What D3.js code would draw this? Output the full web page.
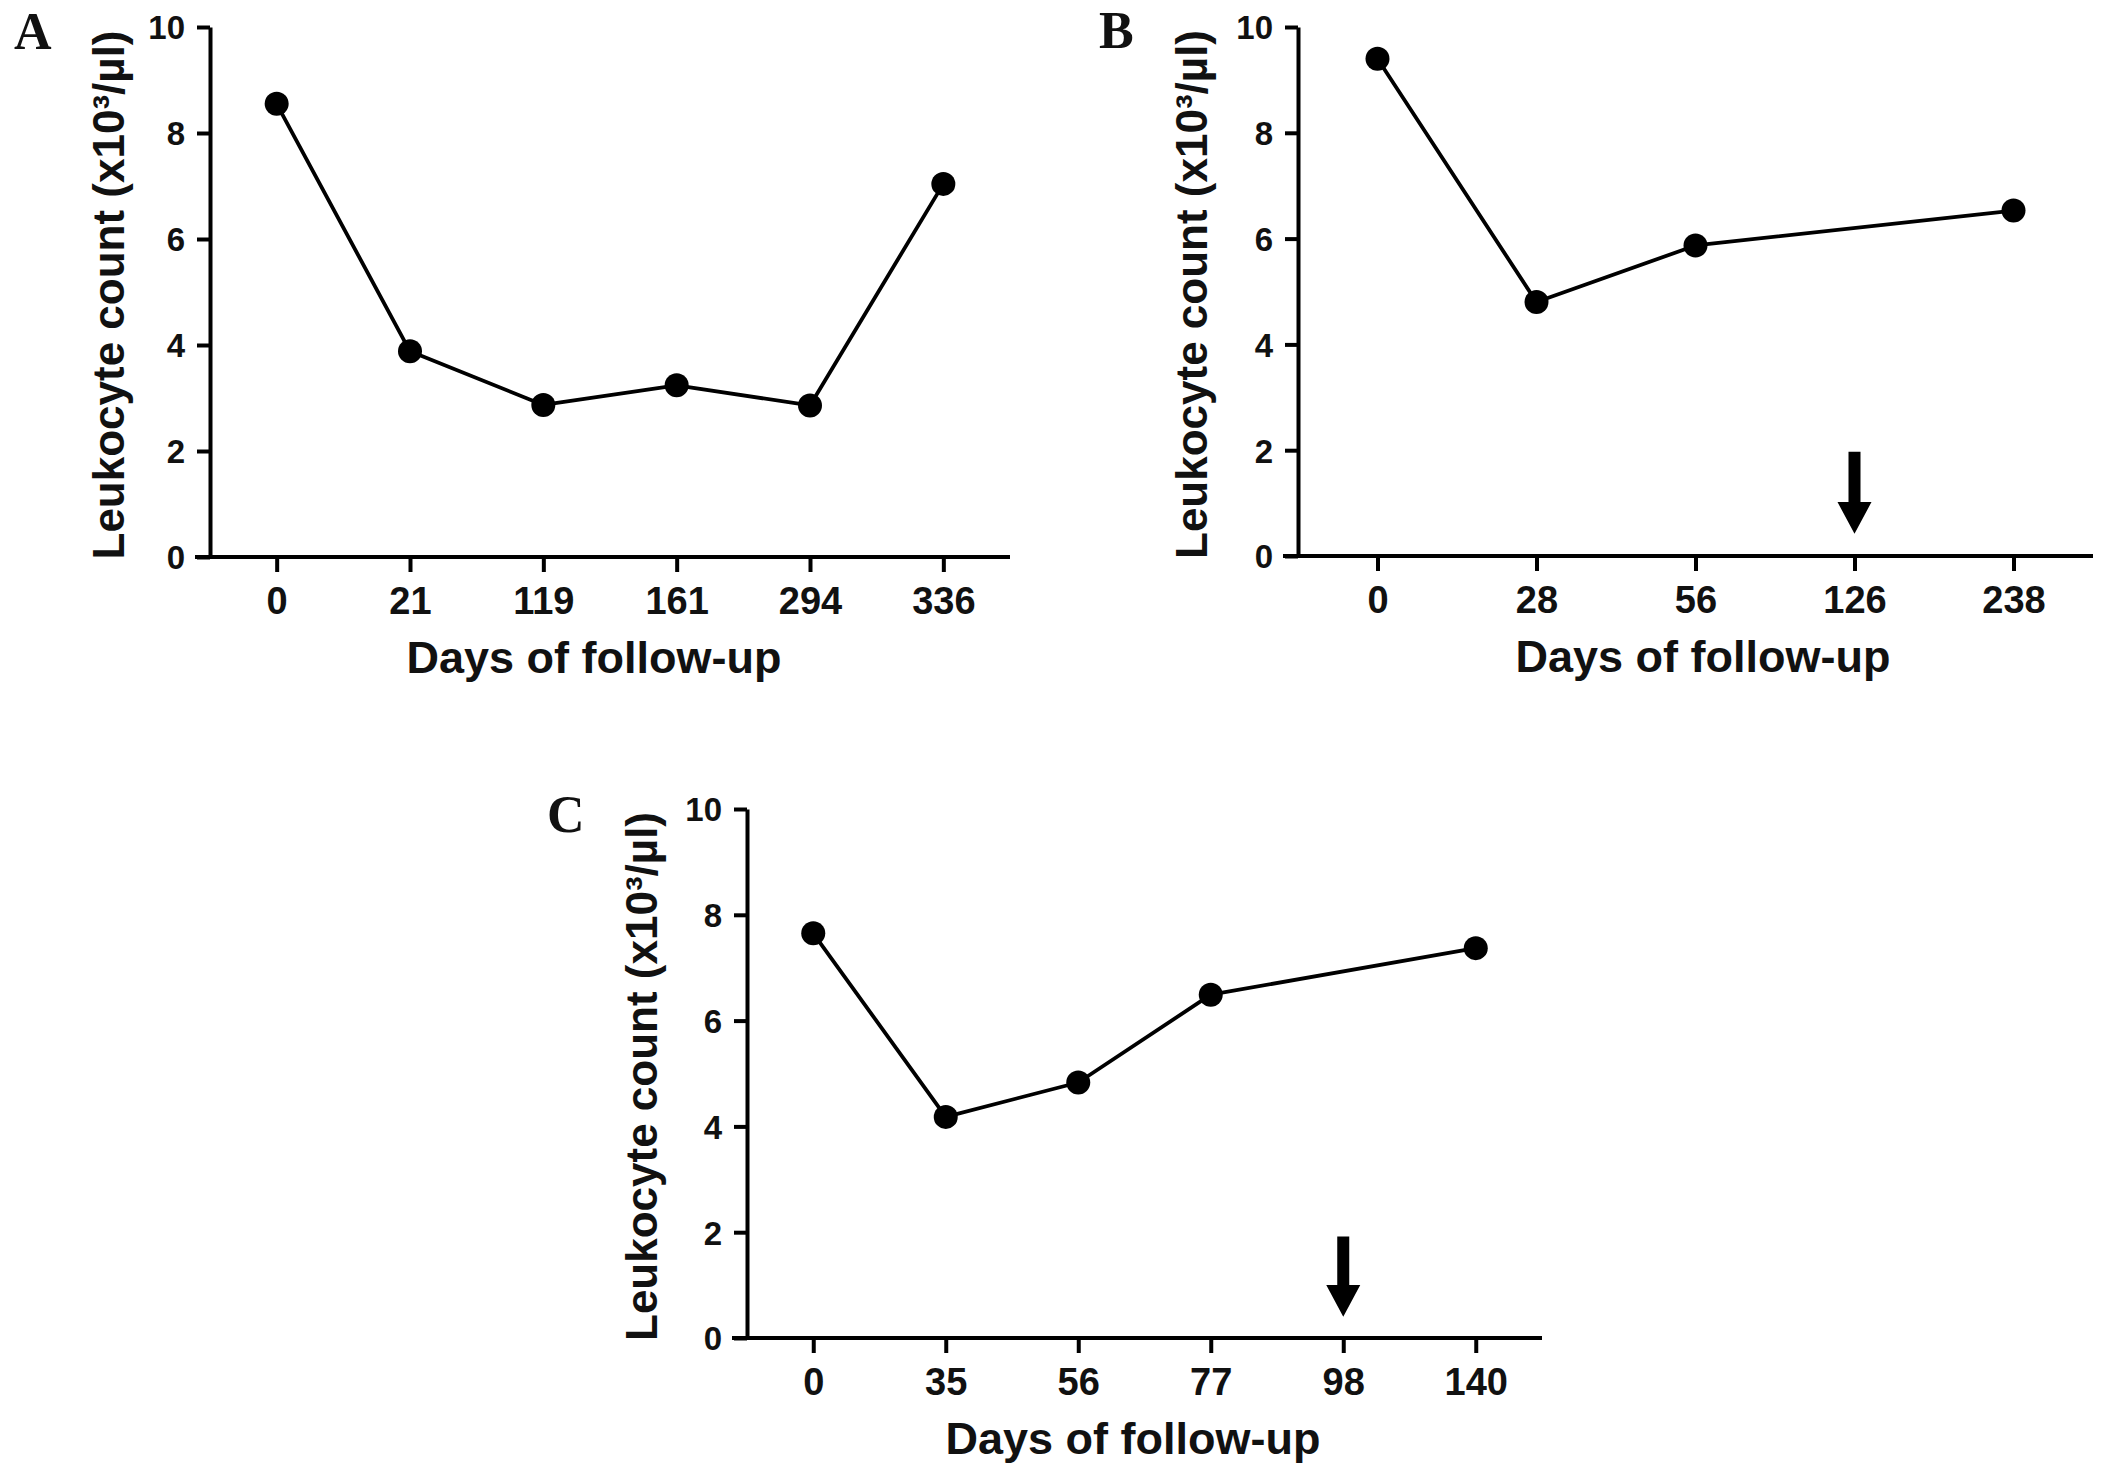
<!DOCTYPE html>
<html>
<head>
<meta charset="utf-8">
<script src="https://cdn.jsdelivr.net/npm/d3@7/dist/d3.min.js"></script>
<style>
  html, body { margin: 0; padding: 0; background: #fff; }
  svg { display: block; }
</style>
</head>
<body>
<svg id="chart" width="2108" height="1474"></svg>
<script>
// ---------- data ----------
const daysA = ["0", "21", "119", "161", "294", "336"];
const valuesA = [8.55, 3.88, 2.87, 3.24, 2.86, 7.04];

const daysB = ["0", "28", "56", "126", "238"];
const valuesB = [9.40, 4.80, 5.87, null, 6.53];

const daysC = ["0", "35", "56", "77", "98", "140"];
const valuesC = [7.65, 4.18, 4.83, 6.49, null, 7.37];

const yTicks = [0, 2, 4, 6, 8, 10];
const yDomain = [0, 10];

const arrowB = { day: "126", top: 1.97, headBase: 1.02, tip: 0.42 };
const arrowC = { day: "98", top: 1.92, headBase: 1.0, tip: 0.40 };

const xTitle = "Days of follow-up";
const yTitle = "Leukocyte count (x10³/µl)";

// ---------- layout ----------
const panels = [
  { letter: "A", days: daysA, values: valuesA, arrow: null,
    left: 210, right: 1010, top: 27, bottom: 557,
    letterX: 14, letterY: 49, xTitleX: 594, yTitleX: 108 },
  { letter: "B", days: daysB, values: valuesB, arrow: arrowB,
    left: 1298, right: 2093, top: 27, bottom: 556,
    letterX: 1099, letterY: 48, xTitleX: 1703, yTitleX: 1191 },
  { letter: "C", days: daysC, values: valuesC, arrow: arrowC,
    left: 747, right: 1542, top: 809, bottom: 1338,
    letterX: 547, letterY: 832, xTitleX: 1133, yTitleX: 641 }
];

const svg = d3.select("#chart");
const sans = "'Liberation Sans', Arial, Helvetica, sans-serif";
const serif = "'Liberation Serif', 'Times New Roman', Times, serif";

panels.forEach(p => {
  const g = svg.append("g");
  const x = d3.scalePoint().domain(p.days).range([p.left, p.right]).padding(0.5);
  const y = d3.scaleLinear().domain(yDomain).range([p.bottom, p.top]);

  // y axis
  const yAxis = g.append("g")
    .attr("transform", `translate(${p.left},0)`)
    .call(d3.axisLeft(y).tickValues(yTicks).tickSize(13).tickSizeOuter(0).tickFormat(d3.format("d")));
  yAxis.select(".domain").attr("stroke", "#000").attr("stroke-width", 4);
  yAxis.selectAll(".tick line").attr("stroke", "#000").attr("stroke-width", 4);
  yAxis.selectAll(".tick text")
    .attr("x", -25).attr("dy", "0.36em")
    .attr("font-family", sans).attr("font-weight", "bold").attr("font-size", 33)
    .attr("fill", "#111");

  // x axis
  const xAxis = g.append("g")
    .attr("transform", `translate(0,${p.bottom})`)
    .call(d3.axisBottom(x).tickSize(15).tickSizeOuter(0));
  xAxis.select(".domain").attr("stroke", "#000").attr("stroke-width", 4)
    .attr("d", `M${p.left - 15},0H${p.right}`);
  xAxis.selectAll(".tick line").attr("stroke", "#000").attr("stroke-width", 4);
  xAxis.selectAll(".tick text")
    .attr("y", 57).attr("dy", 0)
    .attr("font-family", sans).attr("font-weight", "bold").attr("font-size", 38)
    .attr("fill", "#111");

  // line
  const pts = p.days.map((d, i) => ({ d, v: p.values[i] })).filter(o => o.v !== null);
  const line = d3.line().x(o => x(o.d)).y(o => y(o.v));
  g.append("path").datum(pts)
    .attr("d", line).attr("fill", "none").attr("stroke", "#000").attr("stroke-width", 3.8)
    .attr("stroke-linejoin", "round");
  g.selectAll("circle.pt").data(pts).enter().append("circle")
    .attr("class", "pt")
    .attr("cx", o => x(o.d)).attr("cy", o => y(o.v)).attr("r", 12)
    .attr("fill", "#000");

  // arrow
  if (p.arrow) {
    const ax = x(p.arrow.day);
    const shaftW = 12, headW = 34;
    const yt = y(p.arrow.top), yb = y(p.arrow.headBase), ytip = y(p.arrow.tip);
    const path = d3.path();
    path.moveTo(ax - shaftW / 2, yt);
    path.lineTo(ax + shaftW / 2, yt);
    path.lineTo(ax + shaftW / 2, yb);
    path.lineTo(ax + headW / 2, yb);
    path.lineTo(ax, ytip);
    path.lineTo(ax - headW / 2, yb);
    path.lineTo(ax - shaftW / 2, yb);
    path.closePath();
    g.append("path").attr("d", path.toString()).attr("fill", "#000");
  }

  // x title
  g.append("text")
    .attr("x", p.xTitleX).attr("y", p.bottom + 116)
    .attr("text-anchor", "middle")
    .attr("font-family", sans).attr("font-weight", "bold").attr("font-size", 45)
    .attr("fill", "#111")
    .text(xTitle);

  // y title
  const cy = (p.top + p.bottom) / 2 + 3;
  g.append("text")
    .attr("transform", `translate(${p.yTitleX + 16},${cy}) rotate(-90)`)
    .attr("text-anchor", "middle")
    .attr("font-family", sans).attr("font-weight", "bold").attr("font-size", 44)
    .attr("fill", "#111")
    .text(yTitle);

  // panel letter
  g.append("text")
    .attr("x", p.letterX).attr("y", p.letterY)
    .attr("font-family", serif).attr("font-weight", "bold").attr("font-size", 52)
    .attr("fill", "#111")
    .text(p.letter);
});
</script>
</body>
</html>
